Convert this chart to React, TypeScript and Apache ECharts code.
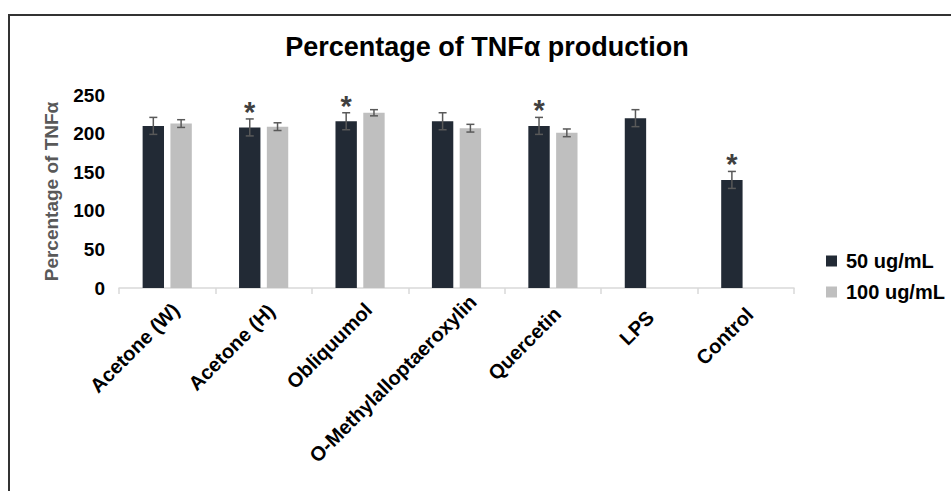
import React, { useEffect, useRef } from "react";
import * as echarts from "echarts";

const categories = [
  "Acetone (W)",
  "Acetone (H)",
  "Obliquumol",
  "O-Methylalloptaeroxylin",
  "Quercetin",
  "LPS",
  "Control",
];
const seriesNames = ["50 ug/mL", "100 ug/mL"];
const dose50 = [210, 208, 216, 216, 210, 220, 140];
const dose100: (number | null)[] = [213, 209, 227, 207, 201, null, null];
const err50 = [11, 11, 11, 11, 11, 11, 11];
const err100: (number | null)[] = [5, 5, 4, 5, 5, null, null];
const star50 = [0, 1, 1, 0, 1, 0, 1];
const star100 = [0, 0, 0, 0, 0, 0, 0];
const yTicks = { min: 0, max: 250, interval: 50 };

// layout: horizontal nudge (px) of each rotated category label, as in the source
const labelNudge = [17, 15, 17, 33, 9, 2, 8];

const DARK = "#222A35";
const LIGHT = "#BFBFBF";
const ERR = "#595959";
const CAT_GAP = 0.49;
const BAR_GAP = 0.3;
const FONT = "Arial, 'Liberation Sans', sans-serif";

function errData(vals: (number | null)[], errs: (number | null)[], stars: number[]) {
  const out: number[][] = [];
  vals.forEach((v, i) => {
    if (v != null) out.push([i, v, errs[i] ?? 0, stars[i]]);
  });
  return out;
}

function makeRender(slot: number) {
  return (params: any, api: any) => {
    const idx = api.value(0);
    const val = api.value(1);
    const e = api.value(2);
    const star = api.value(3);
    const band = api.size([1, 0])[0];
    const groupW = band * (1 - CAT_GAP);
    const barW = groupW / (2 + BAR_GAP);
    const offset = slot === 0 ? -groupW / 2 + barW / 2 : groupW / 2 - barW / 2;
    const cx = api.coord([idx, val])[0] + offset;
    const top = api.coord([idx, val + e])[1];
    const bot = api.coord([idx, val - e])[1];
    const cap = 4;
    const ls = { stroke: ERR, lineWidth: 1.5 };
    const children: any[] = [
      { type: "line", shape: { x1: cx, y1: top, x2: cx, y2: bot }, style: ls },
      { type: "line", shape: { x1: cx - cap, y1: top, x2: cx + cap, y2: top }, style: ls },
      { type: "line", shape: { x1: cx - cap, y1: bot, x2: cx + cap, y2: bot }, style: ls },
    ];
    if (star) {
      children.push({
        type: "text",
        x: cx,
        y: top - 7,
        style: {
          text: "*",
          fill: "#404040",
          fontSize: 29,
          fontWeight: "bold",
          fontFamily: FONT,
          align: "center",
          verticalAlign: "middle",
        },
      });
    }
    return { type: "group", children };
  };
}

export default function App() {
  const ref = useRef<HTMLDivElement>(null);
  useEffect(() => {
    if (!ref.current) return;
    const chart = echarts.init(ref.current, null, { renderer: "svg" });
    const xData = categories.map((c, i) => {
      const s = labelNudge[i] * Math.SQRT1_2;
      return { value: c, textStyle: { padding: [2 * s, -s, 0, 0] } };
    });
    chart.setOption({
      animation: false,
      backgroundColor: "#ffffff",
      title: {
        text: "Percentage of TNFα production",
        left: 487,
        top: 47,
        padding: 0,
        textAlign: "center",
        textVerticalAlign: "middle",
        textStyle: { fontSize: 27, fontWeight: "bold", color: "#000", fontFamily: FONT },
      },
      graphic: [
        {
          type: "rect",
          shape: { x: 9, y: 15, width: 1000, height: 600 },
          style: { fill: "none", stroke: "#333333", lineWidth: 2 },
          z: 100,
        },
      ],
      legend: {
        orient: "vertical",
        left: 826,
        top: 251,
        padding: 0,
        itemWidth: 11,
        itemHeight: 11,
        itemGap: 11,
        icon: "rect",
        data: seriesNames,
        textStyle: { fontSize: 20, fontWeight: "bold", color: "#000", fontFamily: FONT, padding: [0, 0, 0, 4] },
      },
      grid: { left: 119, right: 157, top: 95, bottom: 203, containLabel: false },
      xAxis: {
        type: "category",
        data: xData,
        axisLine: { lineStyle: { color: "#D9D9D9", width: 1.5 } },
        axisTick: { show: true, length: 6, interval: 0, lineStyle: { color: "#D9D9D9", width: 1.5 } },
        axisLabel: {
          interval: 0,
          rotate: 45,
          margin: 27,
          fontSize: 20,
          fontWeight: "bold",
          color: "#000",
          fontFamily: FONT,
        },
      },
      yAxis: {
        type: "value",
        min: yTicks.min,
        max: yTicks.max,
        interval: yTicks.interval,
        name: "Percentage of TNFα",
        nameLocation: "middle",
        nameGap: 58,
        nameTextStyle: { fontSize: 19, fontWeight: "bold", color: "#595959", fontFamily: FONT },
        axisLine: { show: false },
        axisTick: { show: false },
        splitLine: { show: false },
        axisLabel: { fontSize: 19, fontWeight: "bold", color: "#000", margin: 14, fontFamily: FONT },
      },
      series: [
        {
          name: seriesNames[0],
          type: "bar",
          data: dose50,
          itemStyle: { color: DARK },
          barGap: `${BAR_GAP * 100}%`,
          barCategoryGap: `${CAT_GAP * 100}%`,
        },
        {
          name: seriesNames[1],
          type: "bar",
          data: dose100.map((v) => (v == null ? "-" : v)),
          itemStyle: { color: LIGHT },
          barGap: `${BAR_GAP * 100}%`,
          barCategoryGap: `${CAT_GAP * 100}%`,
        },
        {
          type: "custom",
          renderItem: makeRender(0),
          data: errData(dose50, err50, star50),
          encode: { x: 0, y: 1 },
          z: 10,
          silent: true,
        },
        {
          type: "custom",
          renderItem: makeRender(1),
          data: errData(dose100, err100, star100),
          encode: { x: 0, y: 1 },
          z: 10,
          silent: true,
        },
      ],
    });
    return () => chart.dispose();
  }, []);
  return (
    <div
      ref={ref}
      style={{ position: "fixed", left: 0, top: 0, width: 951, height: 491 }}
    />
  );
}
